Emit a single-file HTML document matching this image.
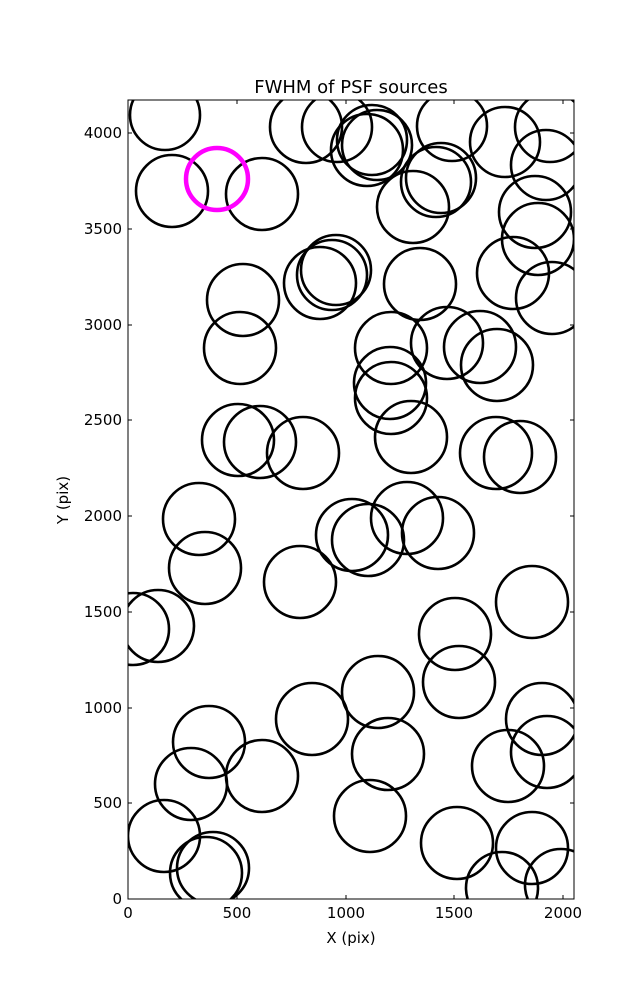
<!DOCTYPE html><html><head><style>body{margin:0;background:#fff}</style></head><body>
<svg width="637" height="1000" xmlns="http://www.w3.org/2000/svg" font-family="DejaVu Sans, Liberation Sans, sans-serif">
<rect width="637" height="1000" fill="#fff"/>
<defs><clipPath id="c"><rect x="128" y="100" width="446" height="799"/></clipPath></defs>
<g clip-path="url(#c)" fill="none" stroke="#000" stroke-width="2.6">
<circle cx="165" cy="115" r="35"/><circle cx="172" cy="191" r="36"/><circle cx="262" cy="194" r="36"/>
<circle cx="306" cy="127" r="36"/><circle cx="337" cy="127" r="35"/><circle cx="367" cy="150" r="36"/><circle cx="377" cy="145" r="35"/><circle cx="372" cy="140" r="35"/>
<circle cx="452" cy="126" r="35"/><circle cx="505" cy="142" r="35"/><circle cx="550" cy="127" r="35"/><circle cx="546" cy="165" r="35"/>
<circle cx="441" cy="178" r="35"/><circle cx="436" cy="182" r="35"/><circle cx="413" cy="207" r="36"/>
<circle cx="535" cy="212" r="36"/><circle cx="538" cy="239" r="36"/><circle cx="513" cy="273" r="36"/><circle cx="552" cy="298" r="36"/>
<circle cx="243" cy="300" r="36"/><circle cx="240" cy="348" r="36"/><circle cx="320" cy="283" r="36"/><circle cx="332" cy="275" r="35"/><circle cx="336" cy="270" r="35"/>
<circle cx="420" cy="284" r="36"/><circle cx="391" cy="348" r="36"/><circle cx="447" cy="343" r="36"/><circle cx="480" cy="347" r="36"/><circle cx="497" cy="365" r="36"/>
<circle cx="390" cy="383" r="36"/><circle cx="391" cy="398" r="36"/><circle cx="411" cy="437" r="36"/>
<circle cx="238" cy="440" r="36"/><circle cx="260" cy="442" r="36"/><circle cx="303" cy="453" r="36"/><circle cx="496" cy="453" r="36"/><circle cx="520" cy="457" r="36"/>
<circle cx="199" cy="519" r="36"/><circle cx="205" cy="568" r="36"/><circle cx="133" cy="629" r="36"/><circle cx="158" cy="626" r="36"/>
<circle cx="300" cy="582" r="36"/><circle cx="352" cy="535" r="36"/><circle cx="368" cy="540" r="36"/><circle cx="407" cy="518" r="36"/><circle cx="438" cy="533" r="36"/>
<circle cx="532" cy="602" r="36"/><circle cx="455" cy="634" r="36"/><circle cx="459" cy="682" r="36"/><circle cx="312" cy="719" r="36"/>
<circle cx="378" cy="692" r="36"/><circle cx="388" cy="754" r="36"/><circle cx="370" cy="816" r="36"/><circle cx="209" cy="742" r="36"/>
<circle cx="191" cy="784" r="36"/><circle cx="262" cy="776" r="36"/><circle cx="164" cy="836" r="36"/><circle cx="213" cy="868" r="36"/><circle cx="206" cy="873" r="36"/>
<circle cx="542" cy="719" r="36"/><circle cx="547" cy="752" r="36"/><circle cx="508" cy="766" r="36"/><circle cx="457" cy="843" r="36"/>
<circle cx="532" cy="848" r="36"/><circle cx="502" cy="888" r="36"/><circle cx="561" cy="885" r="36"/>
<circle cx="217" cy="179" r="31" stroke="#ff00ff" stroke-width="4.5"/>
</g>
<rect x="128" y="100" width="446" height="799" fill="none" stroke="#000" stroke-width="1"/>
<g stroke="#000" stroke-width="1">
<path d="M128 899v-4M237 899v-4M346 899v-4M454 899v-4M563 899v-4M128 100v4M237 100v4M346 100v4M454 100v4M563 100v4"/>
<path d="M128 899h4M128 803h4M128 708h4M128 612h4M128 516h4M128 420h4M128 325h4M128 229h4M128 133h4M574 899h-4M574 803h-4M574 708h-4M574 612h-4M574 516h-4M574 420h-4M574 325h-4M574 229h-4M574 133h-4"/>
</g>
<g font-size="15" text-anchor="middle">
<text x="128" y="918">0</text><text x="237" y="918">500</text><text x="346" y="918">1000</text><text x="454" y="918">1500</text><text x="563" y="918">2000</text>
</g>
<g font-size="15" text-anchor="end">
<text x="122" y="904">0</text><text x="122" y="808">500</text><text x="122" y="713">1000</text><text x="122" y="617">1500</text><text x="122" y="521">2000</text><text x="122" y="425">2500</text><text x="122" y="330">3000</text><text x="122" y="234">3500</text><text x="122" y="138">4000</text>
</g>
<text x="351" y="943" font-size="15" text-anchor="middle">X (pix)</text>
<text x="68" y="500" font-size="15" text-anchor="middle" transform="rotate(-90 68 500)">Y (pix)</text>
<text x="351" y="93" font-size="18" text-anchor="middle">FWHM of PSF sources</text>
</svg></body></html>
